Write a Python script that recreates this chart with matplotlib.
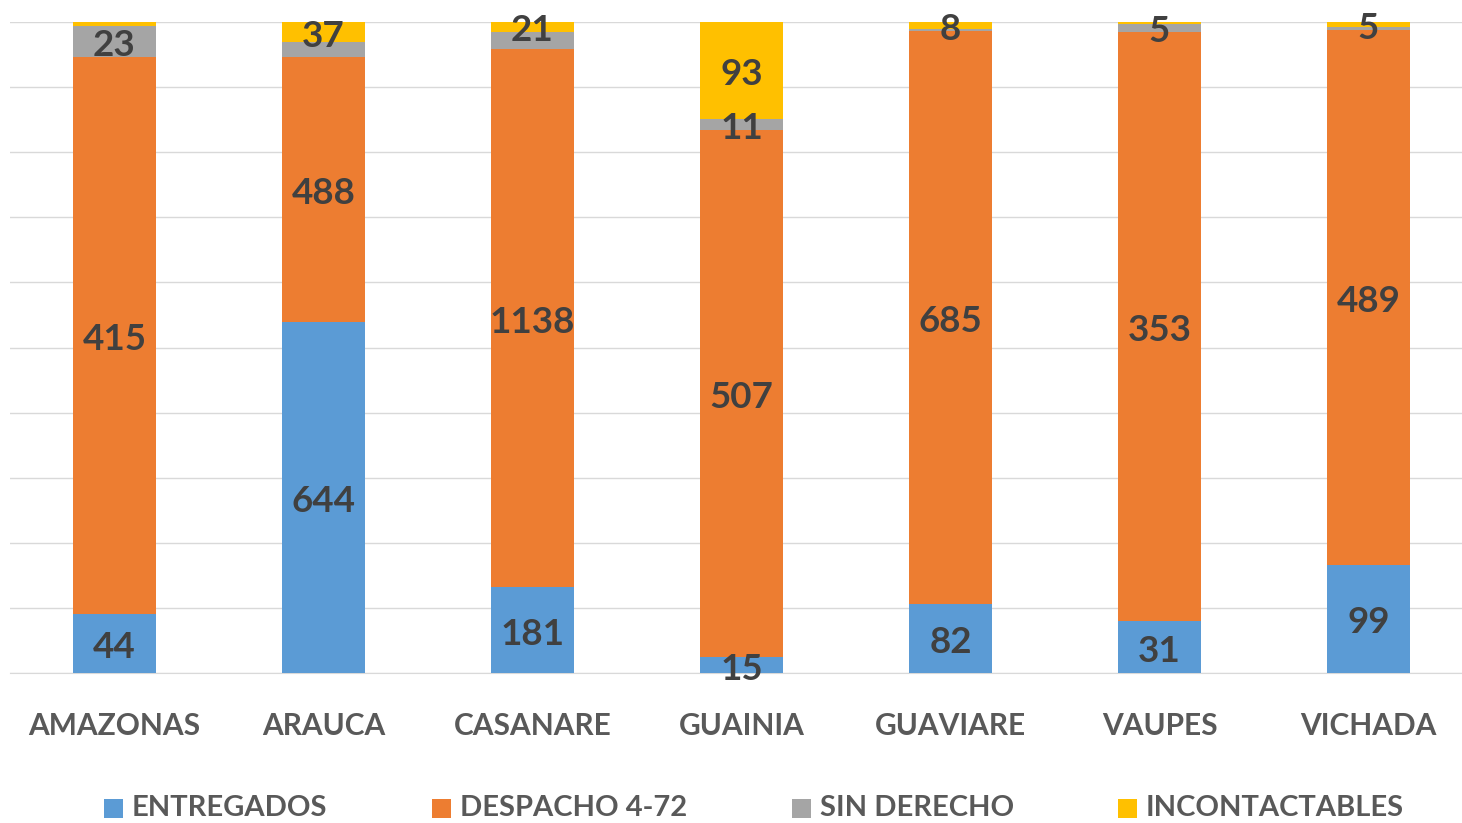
import matplotlib
matplotlib.use("Agg")
import matplotlib.pyplot as plt
import numpy as np
from matplotlib.patches import Rectangle
from matplotlib.transforms import offset_copy

categories = ["AMAZONAS", "ARAUCA", "CASANARE", "GUAINIA", "GUAVIARE", "VAUPES", "VICHADA"]
entregados = [44, 644, 181, 15, 82, 31, 99]
despacho = [415, 488, 1138, 507, 685, 353, 489]
sin_derecho = [23, 27, 36, 11, 3, 5, 2]
incontactables = [3, 37, 21, 93, 8, 1, 5]
series_names = ["ENTREGADOS", "DESPACHO 4-72", "SIN DERECHO", "INCONTACTABLES"]
# which labels are shown
show_sin = [True, False, False, True, False, True, False]
show_inc = [False, True, True, True, True, False, True]

colors = ["#5B9BD5", "#ED7D31", "#A5A5A5", "#FFC000"]

plt.rcParams['font.family'] = ['Lato', 'DejaVu Sans']

fig = plt.figure(figsize=(14.62, 8.23), dpi=100)
W, H = 1462, 823
ax = fig.add_axes([10 / W, 1 - 673 / H, 1463 / W, 651 / H])

data = np.array([entregados, despacho, sin_derecho, incontactables], dtype=float)
totals = data.sum(axis=0)
pct = data / totals * 100
x = np.arange(len(categories))
shows = [[True] * 7, [True] * 7, show_sin, show_inc]
label_tr = offset_copy(ax.transData, fig=fig, x=0, y=-4, units="dots")

bottom = np.zeros(len(categories))
for i in range(4):
    ax.bar(x, pct[i], bottom=bottom, width=0.4, color=colors[i], zorder=3)
    for j in range(len(categories)):
        if shows[i][j]:
            yc = bottom[j] + pct[i][j] / 2
            ax.text(x[j], yc, str(int(data[i][j])), ha="center", va="center",
                    fontsize=26.5, fontweight="bold", color="#404040", zorder=5,
                    clip_on=False, transform=label_tr)
    bottom += pct[i]

ax.set_xlim(-0.5, 6.5)
ax.set_ylim(0, 100)
ax.set_yticks(np.arange(0, 101, 10))
ax.set_yticklabels([])
ax.tick_params(axis="y", length=0)
ax.tick_params(axis="x", length=0, pad=28)
ax.yaxis.grid(True, color="#D9D9D9", linewidth=1, zorder=0)
ax.set_xticks(x)
ax.set_xticklabels(categories, fontsize=21.5, fontweight="bold", color="#595959")
for s in ["top", "right", "left"]:
    ax.spines[s].set_visible(False)
ax.spines["bottom"].set_color("#D9D9D9")
ax.set_axisbelow(True)

# legend drawn manually
leg_sq_x = [104, 432, 792, 1118]
leg_y = 808
sq = 19
for c, name, lx in zip(colors, series_names, leg_sq_x):
    fig.patches.append(Rectangle((lx / W, 1 - (leg_y + sq / 2) / H), sq / W, sq / H,
                                 transform=fig.transFigure, facecolor=c, edgecolor="none"))
    fig.text((lx + sq + 9) / W, 1 - leg_y / H, name, ha="left", va="center",
             fontsize=21, fontweight="bold", color="#595959")

fig.savefig("out.png", dpi=100)
